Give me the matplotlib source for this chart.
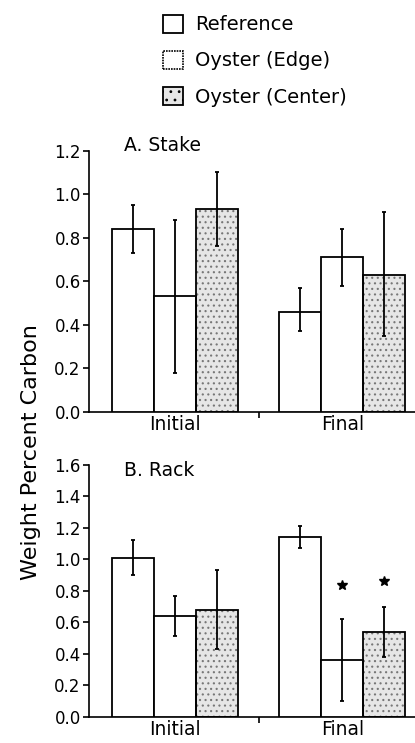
import matplotlib.pyplot as plt
from matplotlib.patches import Patch

plt.rcParams['font.family'] = ['DejaVu Sans']
plt.rcParams['hatch.linewidth'] = 0.8

groups = ["Initial", "Final"]
series = ["Reference", "Oyster (Edge)", "Oyster (Center)"]

# A. Stake  (means, lower and upper ends of error bars)
stake_mean = [[0.84, 0.46], [0.53, 0.71], [0.93, 0.63]]
stake_lo = [[0.73, 0.37], [0.18, 0.58], [0.76, 0.35]]
stake_hi = [[0.95, 0.57], [0.88, 0.84], [1.10, 0.92]]

# B. Rack
rack_mean = [[1.01, 1.14], [0.64, 0.36], [0.68, 0.54]]
rack_lo = [[0.90, 1.07], [0.51, 0.10], [0.43, 0.38]]
rack_hi = [[1.12, 1.21], [0.77, 0.62], [0.93, 0.70]]
rack_stars = [[None, None], [None, 0.84], [None, 0.865]]

faces = ["white", "white", "#e6e6e6"]
hatches = [None, None, "..."]

fig = plt.figure(figsize=(4.15, 7.43), dpi=100)
axA = fig.add_axes([0.2145, 0.4459, 0.7855, 0.3513])
axB = fig.add_axes([0.2145, 0.0354, 0.7855, 0.3388])

gpos = [0, 4]


def draw(ax, mean, lo, hi, ymax, title, ty, stars=None):
    for i in range(3):
        xs = [g + (i - 1) for g in gpos]
        if hatches[i]:
            ax.bar(xs, mean[i], width=1.0, color=faces[i], edgecolor="#777777",
                   hatch=hatches[i], linewidth=0, zorder=2)
            ax.bar(xs, mean[i], width=1.0, fill=False, edgecolor="black",
                   linewidth=1.3, zorder=3)
        else:
            ax.bar(xs, mean[i], width=1.0, color=faces[i], edgecolor="black",
                   linewidth=1.3, zorder=3)
        err = [[m - l for m, l in zip(mean[i], lo[i])],
               [h - m for m, h in zip(mean[i], hi[i])]]
        ax.errorbar(xs, mean[i], yerr=err, fmt="none", ecolor="black",
                    elinewidth=1.3, capsize=1.5, capthick=1.3, zorder=4)
        if stars:
            for x, s in zip(xs, stars[i]):
                if s is not None:
                    ax.plot(x, s, marker="*", color="black", markersize=7.5, zorder=5)
    ax.set_xlim(-2.04, 5.73)
    ax.set_ylim(0, ymax)
    ticks = [k / 10 for k in range(0, int(round(ymax * 10)) + 1, 2)]
    ax.set_yticks(ticks)
    ax.set_yticklabels([f"{t:.1f}" for t in ticks])
    ax.set_xticks(gpos)
    ax.set_xticklabels(groups, fontsize=13.5)
    ax.set_xticks([2], minor=True)
    ax.tick_params(axis="x", which="major", length=0, pad=2.5)
    ax.tick_params(axis="x", which="minor", length=4, width=1.2, direction="out")
    ax.tick_params(axis="y", length=4, width=1.2, labelsize=12, pad=2)
    for s in ["top", "right"]:
        ax.spines[s].set_visible(False)
    for s in ["left", "bottom"]:
        ax.spines[s].set_linewidth(1.2)
    ax.text(-1.2, ty, title, fontsize=13.5, va="center", ha="left",
            transform=ax.get_xaxis_transform())


draw(axA, stake_mean, stake_lo, stake_hi, 1.2, "A. Stake", 1.018)
draw(axB, rack_mean, rack_lo, rack_hi, 1.6, "B. Rack", 0.98, rack_stars)

fig.text(0.075, 0.392, "Weight Percent Carbon", rotation=90, fontsize=16,
         ha="center", va="center")

handles = [Patch(facecolor="white", edgecolor="black", linewidth=1.3),
           Patch(facecolor="white", edgecolor="black", linewidth=1.2, linestyle=(0, (1, 0.6))),
           Patch(facecolor="#e6e6e6", edgecolor="black", linewidth=1.3, hatch="..")]
fig.legend(handles, series, loc="upper left", bbox_to_anchor=(0.35, 1.004),
           frameon=False, fontsize=14, handlelength=1.05, handleheight=1.05,
           labelspacing=0.85, handletextpad=0.6)

fig.savefig("out.png", dpi=100)
